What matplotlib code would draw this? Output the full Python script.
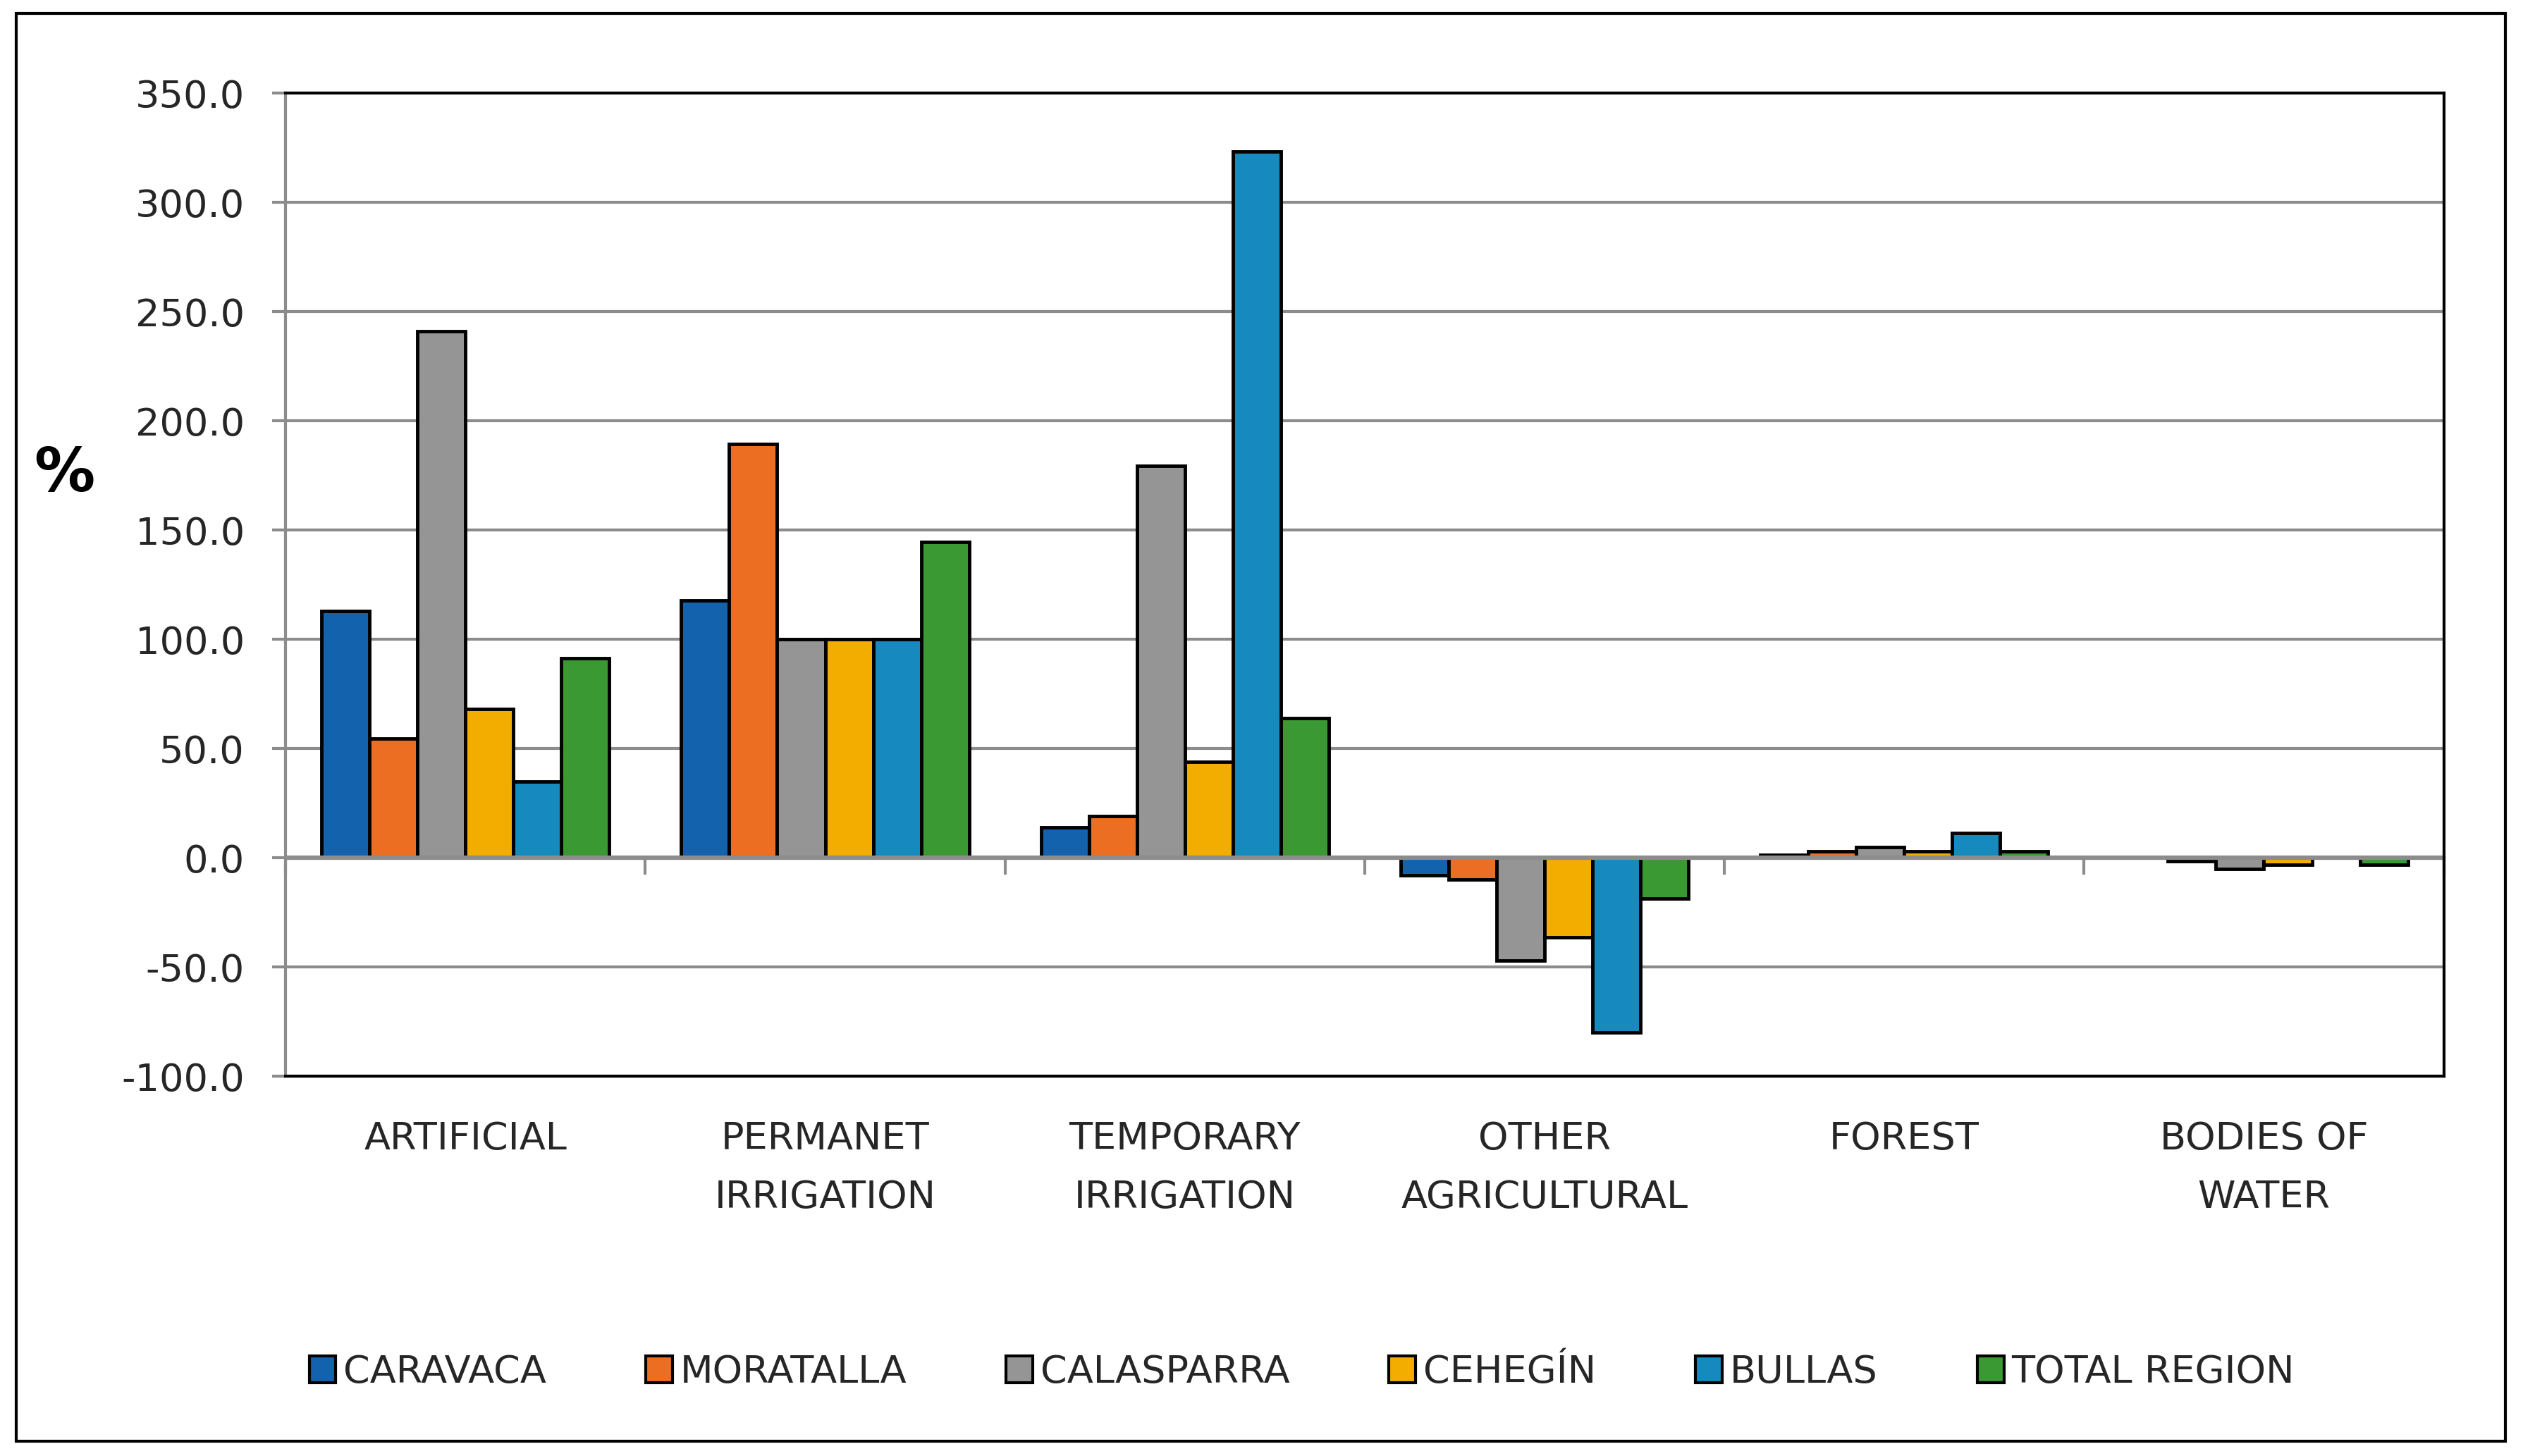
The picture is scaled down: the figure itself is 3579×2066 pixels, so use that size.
import matplotlib
matplotlib.use("Agg")
import matplotlib.pyplot as plt
import numpy as np
from matplotlib.patches import Rectangle, Patch

categories = ["ARTIFICIAL", "PERMANET\nIRRIGATION", "TEMPORARY\nIRRIGATION",
              "OTHER\nAGRICULTURAL", "FOREST", "BODIES OF\nWATER"]
series_names = ["CARAVACA", "MORATALLA", "CALASPARRA", "CEHEGÍN", "BULLAS", "TOTAL REGION"]
caravaca   = [113.0, 118.0, 14.0,  -8.0, 1.5,  0.0]
moratalla  = [54.5,  189.5, 19.0, -10.0, 3.0, -1.5]
calasparra = [241.0, 100.0, 179.5, -47.0, 4.8, -5.0]
cehegin    = [68.0,  100.0, 44.0, -36.5, 3.0, -3.0]
bullas     = [35.0,  100.0, 323.5, -80.0, 11.5, 0.0]
total      = [91.5,  144.5, 64.0, -18.5, 3.0, -3.0]
yticks = [-100, -50, 0, 50, 100, 150, 200, 250, 300, 350]

series = [caravaca, moratalla, calasparra, cehegin, bullas, total]
colors = ["#1262AE", "#EC6E22", "#959595", "#F2AD00", "#168ABF", "#3A9932"]

plt.rcParams['font.family'] = ['DejaVu Sans']
txt = "#262626"
grid_c = "#8c8c8c"
fs = 39

fig = plt.figure(figsize=(35.79, 20.66), dpi=100)
ax = fig.add_axes([0.1132, 0.2608, 0.9686 - 0.1132, 0.9359 - 0.2608])

n = len(series)
bw = 1.0 / 7.5
x = np.arange(len(categories))
for i, (vals, c, name) in enumerate(zip(series, colors, series_names)):
    offs = (i - (n - 1) / 2) * bw
    ax.bar(x + offs, vals, width=bw, color=c, edgecolor="black", linewidth=3.5,
           label=name, zorder=3)

ax.set_xlim(-0.5, len(categories) - 0.5)
ax.set_ylim(-100, 350)
ax.set_yticks(yticks)
ax.set_yticklabels([f"{v:.1f}" for v in yticks], fontsize=fs, color=txt)
ax.yaxis.grid(True, color=grid_c, linewidth=3, zorder=0)
ax.set_axisbelow(True)
ax.tick_params(axis='y', length=14, width=3, color=grid_c, pad=28)

ax.set_xticks([])
for xi, lab in zip(x, categories):
    ax.text(xi, -0.045, lab, transform=ax.get_xaxis_transform(), ha='center', va='top',
            fontsize=fs, color=txt, linespacing=1.75)

ax.axhline(0, color=grid_c, linewidth=4.5, zorder=4)
for b in np.arange(-0.5, len(categories) + 0.5, 1.0):
    ax.plot([b, b], [0, -7], color=grid_c, linewidth=3, zorder=2, clip_on=False)

for s in ['top', 'right', 'bottom']:
    ax.spines[s].set_color('black')
    ax.spines[s].set_linewidth(3)
    ax.spines[s].set_zorder(5)
ax.spines['left'].set_color(grid_c)
ax.spines['left'].set_linewidth(3)

fig.text(0.0256, 0.674, "%", fontsize=62, color='black', ha='center', va='center',
         fontweight='bold')

handles = [Patch(facecolor=c, edgecolor='black', linewidth=3) for c in colors]
fig.legend(handles, series_names, loc='center', bbox_to_anchor=(0.516, 0.0575), ncol=6,
           frameon=False, fontsize=fs, handlelength=0.7, handleheight=0.7,
           handletextpad=0.2, columnspacing=2.6, labelcolor=txt)

fig.add_artist(Rectangle((0.0064, 0.01), 0.993 - 0.0064, 0.991 - 0.01, transform=fig.transFigure,
                         fill=False, edgecolor='black', linewidth=3))

fig.savefig("out.png", dpi=100, facecolor='white')
